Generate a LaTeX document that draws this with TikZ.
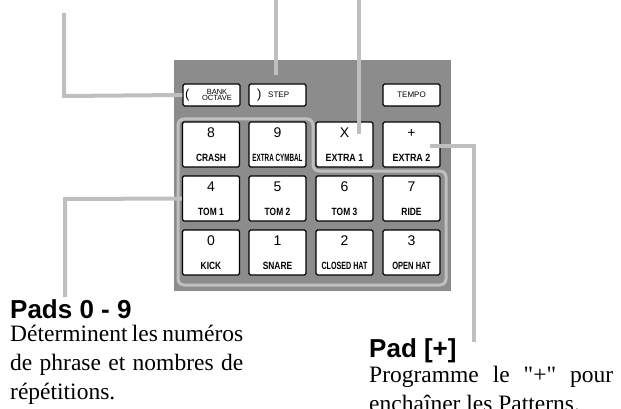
\documentclass[tikz,border=0pt]{standalone}
\usepackage{fontspec}
\setmainfont{Liberation Serif}[Ligatures=TeXOff]
\setsansfont{Liberation Sans}
\begin{document}
\begin{tikzpicture}[x=1pt,y=-1pt,
  lead/.style={draw=black!25,line width=4pt},
  pad/.style={draw=black,line width=1.3pt,fill=white,rounded corners=1.5pt,minimum width=57pt,minimum height=45pt,inner sep=0pt},
  btn/.style={draw=black,line width=1.3pt,fill=white,rounded corners=1.5pt,minimum width=57pt,minimum height=22pt,inner sep=0pt,font=\sffamily\fontsize{8}{8}\selectfont},
  num/.style={font=\sffamily\fontsize{14}{14}\selectfont,inner sep=0pt},
  lab/.style={font=\sffamily\bfseries\fontsize{10.5}{10.5}\selectfont,inner sep=0pt},
  head/.style={font=\sffamily\bfseries\fontsize{26}{26}\selectfont,anchor=base west,inner sep=0pt},
  body/.style={font=\fontsize{23.5}{29}\selectfont,anchor=base west,inner sep=0pt,text width=233pt,align=justify}]
\useasboundingbox (0,0) rectangle (621,409);
\fill[black!45] (174,60) rectangle (451,291);
\draw[black!25,line width=3pt,rounded corners=6pt] (178,119) -- (313,119) -- (313,171) -- (446,171) -- (446,285) -- (178,285) -- cycle;
% buttons
\node[btn] (bank) at (211.5,95) {};
\node[anchor=west,font=\sffamily\fontsize{13}{13}\selectfont,inner sep=0pt] (bp) at (185,95) {(};
\node[font=\sffamily\fontsize{7.5}{7.5}\selectfont,align=center,inner sep=0pt] (bt) at (217,95) {BANK\\[-2pt]OCTAVE};
\node[btn] (step) at (277.5,95) {};
\node[anchor=west,font=\sffamily\fontsize{13}{13}\selectfont,inner sep=0pt] (sp) at (257,95) {)};
\node[anchor=west,font=\sffamily\fontsize{8}{8}\selectfont,inner sep=0pt] (st) at (268,95) {STEP};
\node[btn] (tempo) at (411.5,95) {TEMPO};
% pads
\foreach \n/\x/\y/\a/\b/\s in {p8/211/144.5/8/CRASH/0.8, p9/277.5/144.5/9/EXTRA CYMBAL/0.6, px/344.5/144.5/X/EXTRA 1/0.85, pp/411.5/144.5/+/EXTRA 2/0.85,
  p4/211/198.5/4/TOM 1/0.8, p5/277.5/198.5/5/TOM 2/0.8, p6/344.5/198.5/6/TOM 3/0.8, p7/411.5/198.5/7/RIDE/0.8,
  p0/211/252.5/0/KICK/0.8, p1/277.5/252.5/1/SNARE/0.8, p2/344.5/252.5/2/CLOSED HAT/0.68, p3/411.5/252.5/3/OPEN HAT/0.72}{
  \node[pad] (\n) at (\x,\y) {};
  \node[num] (\n n) at (\x,\y-11.5) {\a};
  \node[lab] (\n l) at (\x,\y+13) {\scalebox{\s}[1]{\b}};
}
% leaders
\coordinate (c1) at (64,13);
\coordinate (c2) at (276,0);
\coordinate (c3) at (359,0);
\coordinate (c4) at (474,342);
\coordinate (c5) at (65,297);
\draw[lead] (c1) -- (64,96) -- (bank.west);
\draw[lead] (c2) -- (276,75);
\draw[lead] (c3) -- (359,134);
\draw[lead] (430,146) -- (474,146) -- (c4);
\draw[lead] (p4.west) -- (65,199) -- (c5);
% texts
\node[head] (h1) at (10,318) {Pads 0 - 9};
\node[body] (t1) at (10,341) {Déterminent les numéros de phrase et nombres de répétitions.};
\node[head] (h2) at (369,357) {Pad [+]};
\node[body,text width=244pt] (t2) at (369,382) {Programme le "+" pour enchaîner les Patterns.};
\end{tikzpicture}
\end{document}
